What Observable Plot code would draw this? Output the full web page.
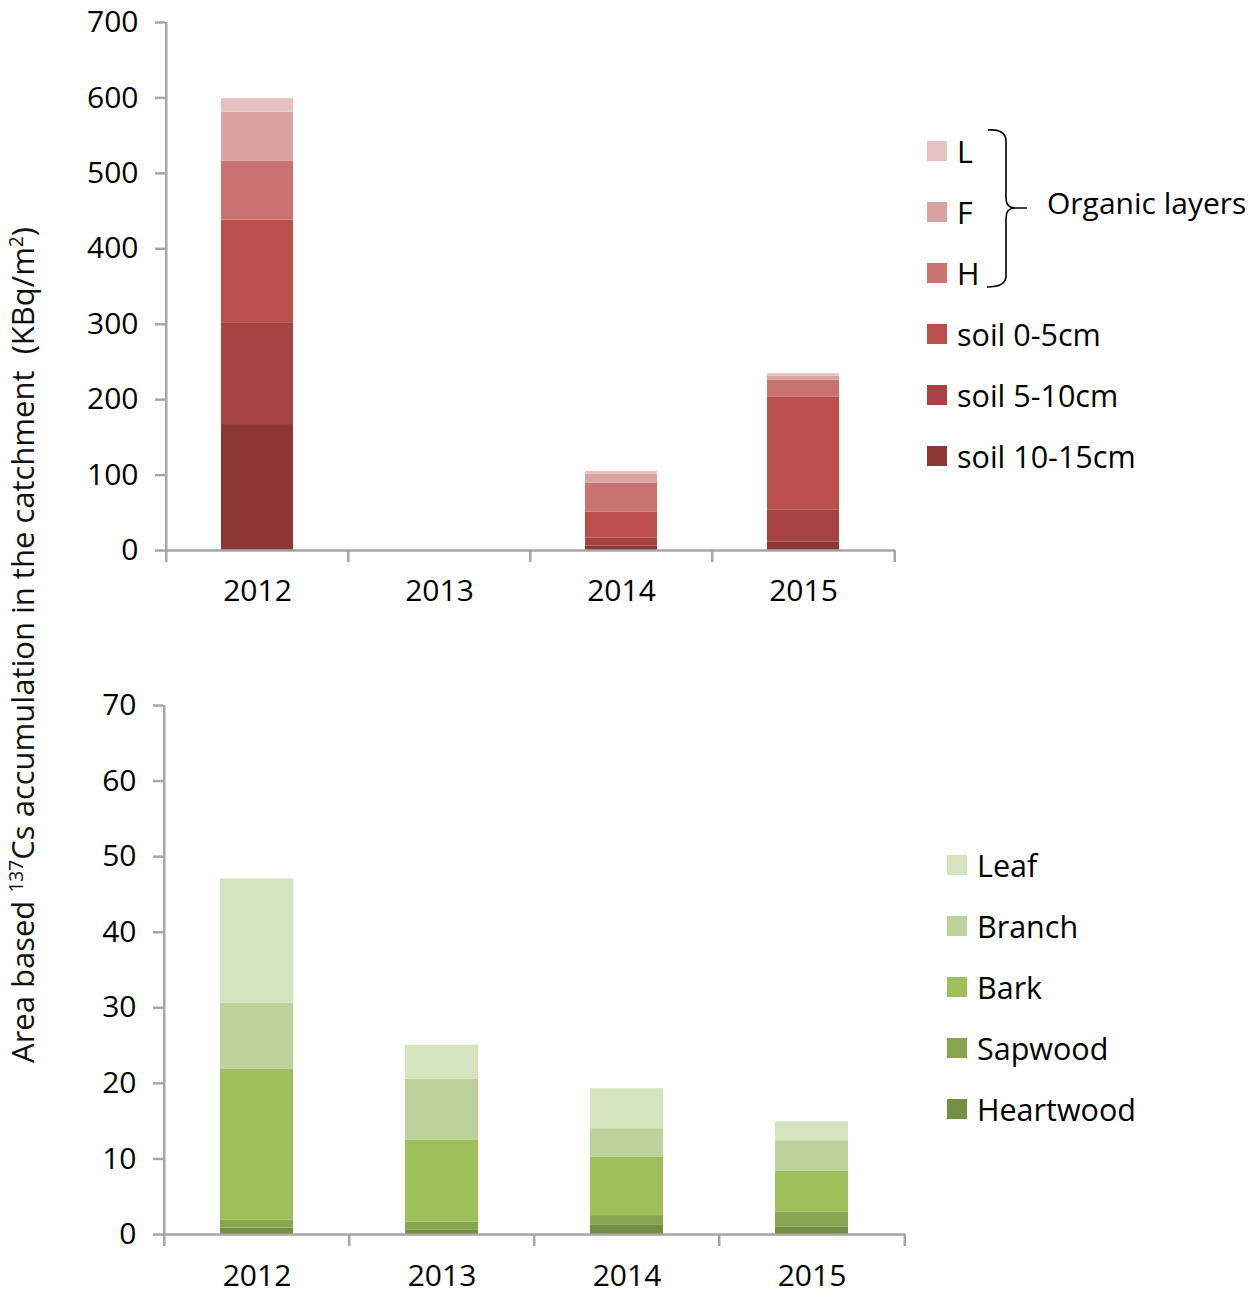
<!DOCTYPE html>
<html><head><meta charset="utf-8">
<script src="https://cdn.jsdelivr.net/npm/d3@7"></script>
<script src="https://cdn.jsdelivr.net/npm/@observablehq/plot@0.6"></script>
<style>
body{margin:0;background:#fff;font-family:"Open Sans",sans-serif;}
#wrap{position:relative;width:1254px;height:1296px;overflow:hidden;background:#fff;}
.plot{position:absolute;left:0;}
.row{position:absolute;display:flex;align-items:center;white-space:nowrap;height:40px;font-size:30.5px;color:#000;line-height:40px;}
.sw{width:20px;height:20px;margin-right:10px;flex:none;}
#ytitle{position:absolute;left:22px;top:645px;transform:translate(-50%,-50%) rotate(-90deg);white-space:nowrap;font-size:31px;color:#111;}
#ytitle sup{font-size:0.62em;vertical-align:0.55em;line-height:0;}
#brace{position:absolute;left:0;top:0;}
#org{position:absolute;left:1047px;top:183px;font-size:30px;line-height:40px;white-space:nowrap;color:#000;}
</style></head><body><div id="wrap"></div>
<script>
// ---- data ----
const years = ["2012","2013","2014","2015"];

// soil / organic layers (bottom to top of stack)
const soilSeries = ["soil 10-15cm","soil 5-10cm","soil 0-5cm","H","F","L"];
const soilColors = ["#8b3735","#a74442","#ba4f4c","#c97271","#d9a3a2","#e6c1c2"];
const soil2012 = [167,135,136,78,65,18];
const soil2013 = [0,0,0,0,0,0];
const soil2014 = [5.7,10.6,34.5,38.2,11.8,3.9];
const soil2015 = [11,43,149,22.6,5.6,3.2];
const soilTicks = [0,100,200,300,400,500,600,700];

// tree parts (bottom to top of stack)
const treeSeries = ["Heartwood","Sapwood","Bark","Branch","Leaf"];
const treeColors = ["#738f43","#8aa54f","#9dc05a","#bdd29a","#d6e3bf"];
const tree2012 = [0.84,1.1,19.9,8.8,16.4];
const tree2013 = [0.55,1.1,10.8,8.1,4.5];
const tree2014 = [1.2,1.3,7.7,3.8,5.3];
const tree2015 = [1.0,2.0,5.4,4.0,2.5];
const treeTicks = [0,10,20,30,40,50,60,70];

const soilByYear = [soil2012,soil2013,soil2014,soil2015];
const treeByYear = [tree2012,tree2013,tree2014,tree2015];
const soilData = years.flatMap((y,i)=>soilSeries.map((s,j)=>({year:y,layer:s,value:soilByYear[i][j]})));
const treeData = years.flatMap((y,i)=>treeSeries.map((s,j)=>({year:y,part:s,value:treeByYear[i][j]})));

const gray = "#a6a6a6";
const font = '"Open Sans",sans-serif';

function chart({data, series, colors, key, ticks, width, height, mL, mR, mT, mB, inset, padX}) {
  const step = (width - mL - mR) / years.length;
  const yMax = ticks[ticks.length-1];
  return Plot.plot({
    width, height, marginLeft:mL, marginRight:mR, marginTop:mT, marginBottom:mB,
    style:{fontFamily:font, fontSize:"30px", color:"#000", background:"transparent", overflow:"visible"},
    x:{domain:years, padding:0, label:null},
    y:{domain:[0,yMax], label:null},
    color:{domain:series, range:colors},
    marks:[
      Plot.barY(data,{x:"year", y:"value", fill:key, insetLeft:inset, insetRight:inset}),
      Plot.ruleY([0],{stroke:gray, strokeWidth:2.5}),
      Plot.ruleX([years[0]],{x:d=>d, y1:0, y2:yMax, dx:-step/2, stroke:gray, strokeWidth:2.5}),
      Plot.ruleX(years,{x:d=>d, y1:0, y2:0, insetBottom:-12, dx:-step/2, stroke:gray, strokeWidth:2.5}),
      Plot.ruleX([years[years.length-1]],{x:d=>d, y1:0, y2:0, insetBottom:-12, dx:step/2, stroke:gray, strokeWidth:2.5}),
      Plot.axisY({ticks, tickSize:10, tickPadding:17, stroke:gray, strokeWidth:2.5, fill:"#000", label:null, tickFormat:d=>String(d)}),
      Plot.axisX({tickSize:0, tickPadding:padX, fill:"#000", label:null})
    ]
  });
}

const wrap = document.getElementById("wrap");

const top1 = chart({data:soilData, series:soilSeries, colors:soilColors, key:"layer", ticks:soilTicks,
  width:920, height:610, mL:165, mR:25, mT:22, mB:60, inset:55, padX:29});
top1.classList.add("plot"); top1.style.top = "0px";
wrap.appendChild(top1);

const bot = chart({data:treeData, series:treeSeries, colors:treeColors, key:"part", ticks:treeTicks,
  width:920, height:611, mL:163, mR:15, mT:22, mB:60, inset:56, padX:30});
bot.classList.add("plot"); bot.style.top = "683px";
wrap.appendChild(bot);

// legends (top to bottom = reverse stack order)
function legend(series, colors, left, firstCenter, gap) {
  const items = series.map((s,i)=>({s, c:colors[i]})).reverse();
  items.forEach((it,i)=>{
    const row = document.createElement("div");
    row.className = "row";
    row.style.left = left + "px";
    row.style.top = (firstCenter + gap*i - 21) + "px";
    const sw = document.createElement("div");
    sw.className = "sw"; sw.style.background = it.c;
    row.appendChild(sw);
    const t = document.createElement("span"); t.textContent = it.s;
    row.appendChild(t);
    wrap.appendChild(row);
  });
}
legend(soilSeries, soilColors, 927, 152, 61);
legend(treeSeries, treeColors, 947, 866, 61);

// brace + "Organic layers"
const ns = "http://www.w3.org/2000/svg";
const svg = document.createElementNS(ns,"svg");
svg.setAttribute("id","brace"); svg.setAttribute("width","1254"); svg.setAttribute("height","400");
const p = document.createElementNS(ns,"path");
p.setAttribute("d","M988,130 Q1006,129 1006,141 L1006,198 Q1006,208 1015,208 L1027,208 M1015,208 Q1006,208 1006,218 L1006,276 Q1006,287 987,287");
p.setAttribute("fill","none"); p.setAttribute("stroke","#000"); p.setAttribute("stroke-width","1.6");
svg.appendChild(p);
wrap.appendChild(svg);
const org = document.createElement("div");
org.id = "org"; org.textContent = "Organic layers";
wrap.appendChild(org);

// y-axis title
const yt = document.createElement("div");
yt.id = "ytitle";
yt.innerHTML = "Area based <sup>137</sup>Cs accumulation in the catchment&nbsp; (KBq/m<sup>2</sup>)";
wrap.appendChild(yt);
</script>
</body></html>
